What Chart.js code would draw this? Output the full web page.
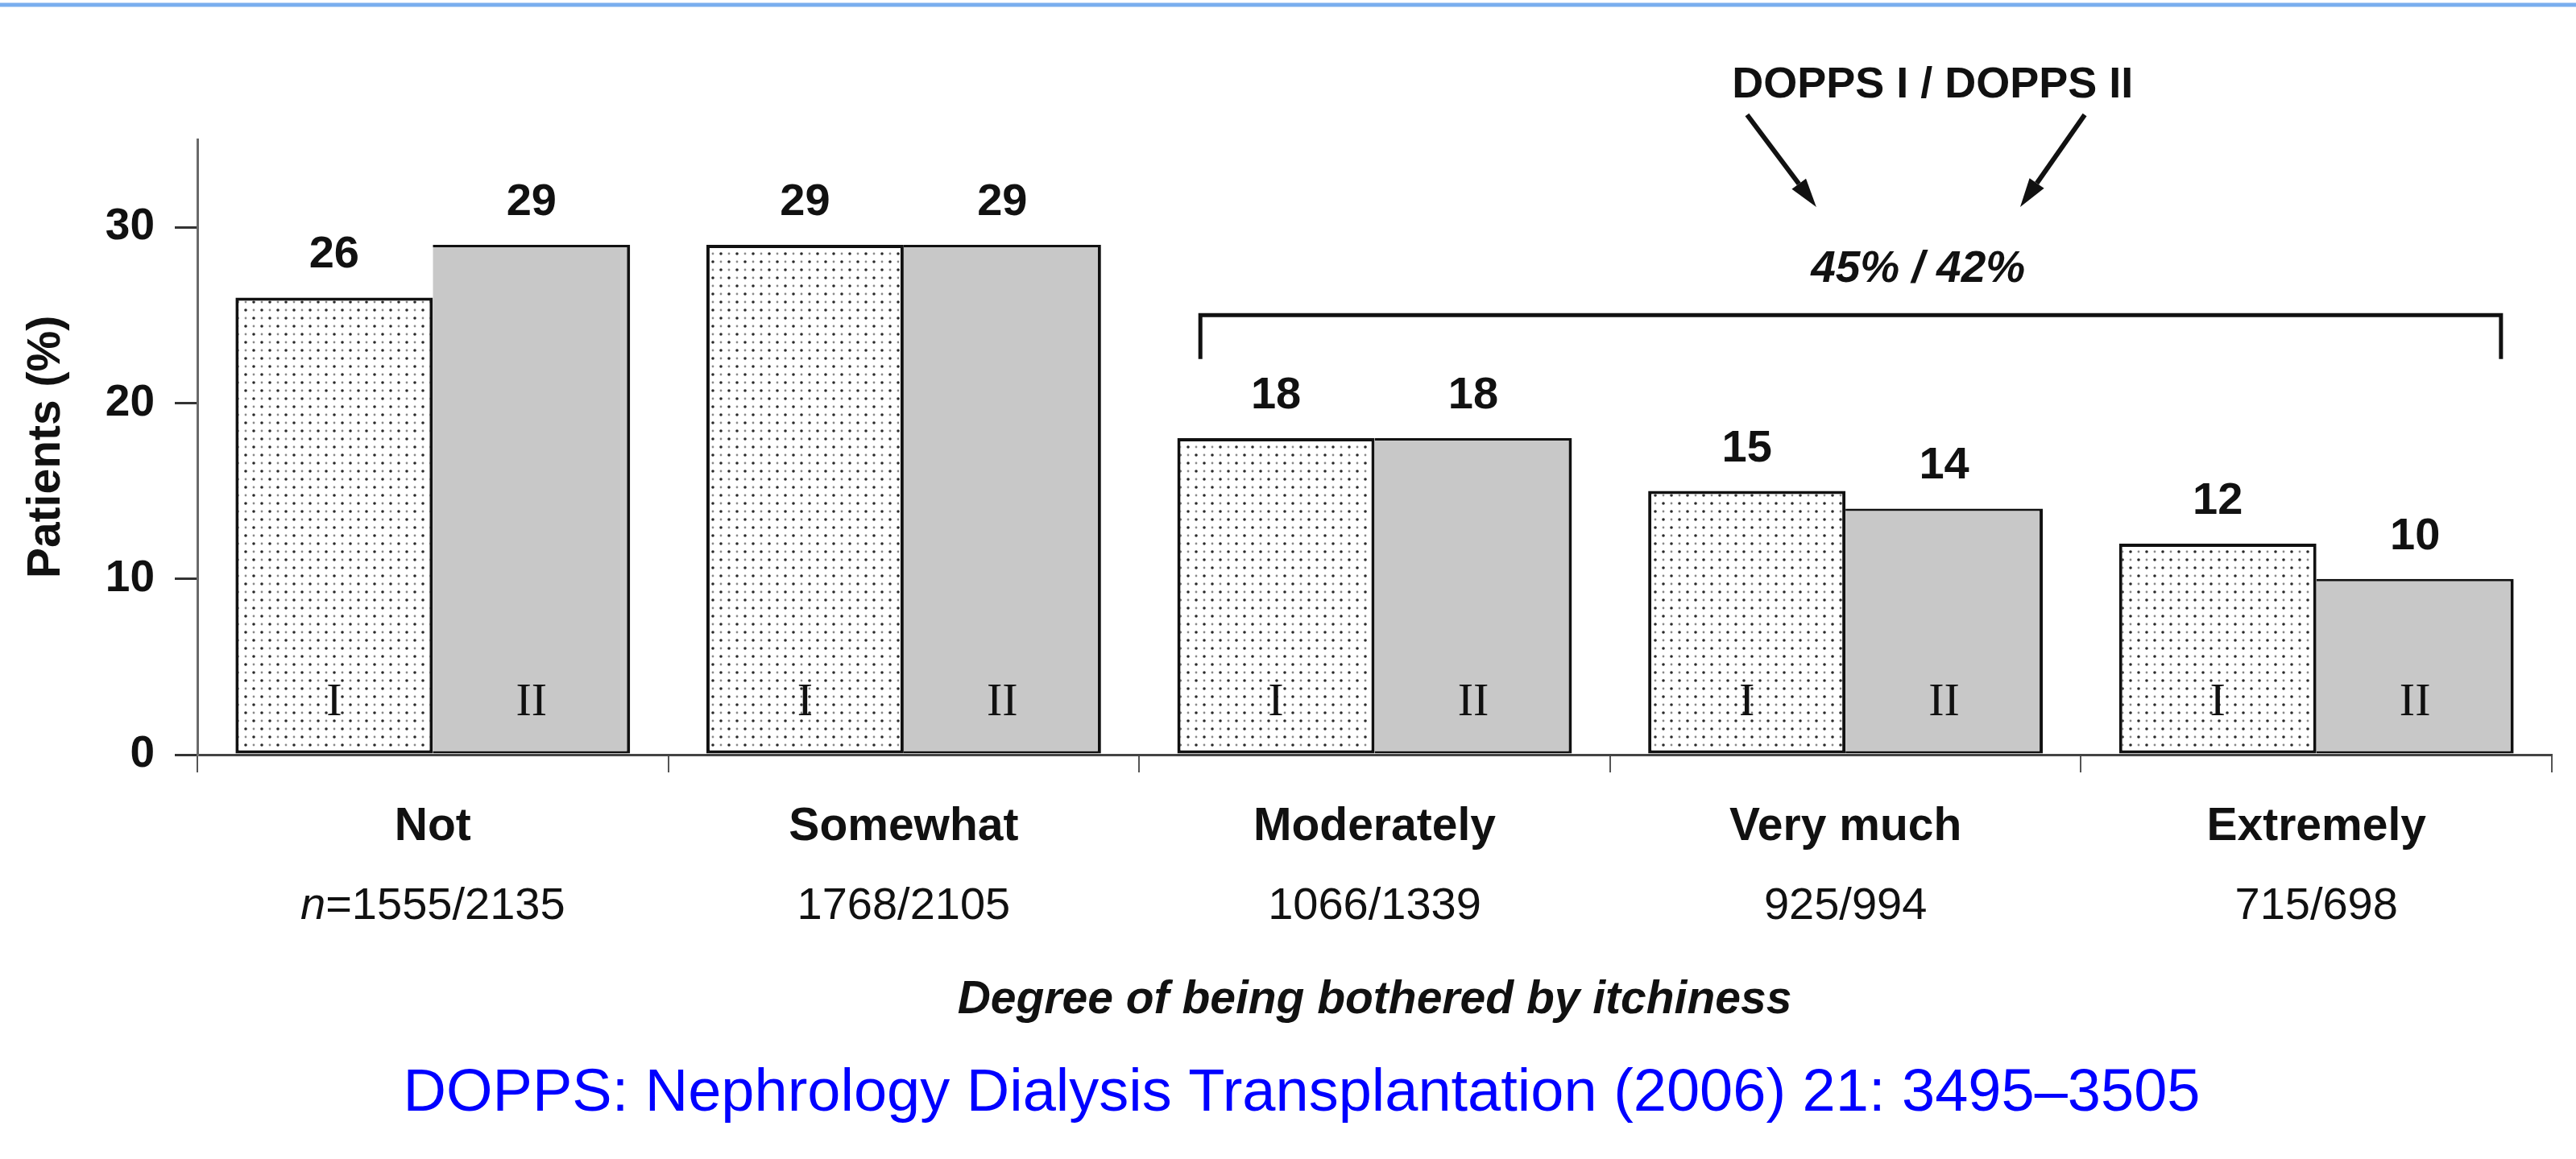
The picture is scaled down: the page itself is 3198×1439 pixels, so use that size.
<!DOCTYPE html>
<html>
<head>
<meta charset="utf-8">
<script src="https://cdn.jsdelivr.net/npm/chart.js@4.4.1/dist/chart.umd.min.js"></script>
<style>
  html, body { margin: 0; padding: 0; background: #fff; }
  #wrap { width: 3198px; height: 1439px; }
</style>
</head>
<body>
<div id="wrap"><canvas id="myChart" width="3198" height="1439"></canvas></div>
<script>
var categories = ["Not", "Somewhat", "Moderately", "Very much", "Extremely"];
var dopps1 = [26, 29, 18, 15, 12];
var dopps2 = [29, 29, 18, 14, 10];
var n1 = [1555, 1768, 1066, 925, 715];
var n2 = [2135, 2105, 1339, 994, 698];
var yTicks = [0, 10, 20, 30];
var seriesTags = ["I", "II"];
var totals = ["45%", "42%"];

var SANS = '"Liberation Sans", Arial, Helvetica, sans-serif';
var SERIF = '"Liberation Serif", "Times New Roman", serif';

// stipple fill for DOPPS I bars
function dotPattern() {
  var c = document.createElement('canvas');
  c.width = 20; c.height = 20;
  var g = c.getContext('2d');
  g.fillStyle = '#fff';
  g.fillRect(0, 0, 20, 20);
  function dot(x, y, r, col) {
    g.fillStyle = col;
    g.beginPath(); g.arc(x, y, r, 0, Math.PI * 2); g.fill();
  }
  dot(5, 5, 1.8, '#2a2a2a'); dot(15, 15, 1.8, '#2a2a2a');
  dot(15, 5, 1.4, '#8a8a8a'); dot(5, 15, 1.4, '#8a8a8a');
  return g.createPattern(c, 'repeat');
}

function arrow(ctx, x1, y1, x2, y2) {
  var a = Math.atan2(y2 - y1, x2 - x1);
  var len = 36, hw = 11;
  var bx = x2 - len * Math.cos(a), by = y2 - len * Math.sin(a);
  ctx.beginPath(); ctx.moveTo(x1, y1); ctx.lineTo(bx, by); ctx.stroke();
  ctx.beginPath();
  ctx.moveTo(x2, y2);
  ctx.lineTo(bx + hw * Math.sin(a), by - hw * Math.cos(a));
  ctx.lineTo(bx - hw * Math.sin(a), by + hw * Math.cos(a));
  ctx.closePath(); ctx.fill();
}

var extras = {
  id: 'extras',
  afterDraw: function(chart) {
    var ctx = chart.ctx, xs = chart.scales.x, ys = chart.scales.y;
    var catW = xs.width / categories.length;
    function X(u) { return xs.left + u * catW; }
    function Y(v) { return ys.getPixelForValue(v); }
    ctx.save();

    // blue rule along the top
    ctx.strokeStyle = '#7aaeee';
    ctx.lineWidth = 5;
    ctx.beginPath(); ctx.moveTo(0, 6); ctx.lineTo(chart.width, 6); ctx.stroke();

    // values above bars, I / II inside bars
    [dopps1, dopps2].forEach(function(arr, di) {
      var meta = chart.getDatasetMeta(di);
      meta.data.forEach(function(bar, j) {
        ctx.fillStyle = '#111';
        ctx.textAlign = 'center';
        ctx.font = 'bold 56px ' + SANS;
        ctx.textBaseline = 'alphabetic';
        ctx.fillText(String(arr[j]), bar.x, bar.y - 37);
        ctx.font = '58px ' + SERIF;
        ctx.textBaseline = 'middle';
        ctx.fillText(seriesTags[di], bar.x, bar.base - 63);
      });
    });

    // sample sizes under category names
    ctx.fillStyle = '#111';
    ctx.textBaseline = 'alphabetic';
    ctx.textAlign = 'left';
    categories.forEach(function(c, j) {
      var cx = X(j + 0.5), y = xs.top + 204;
      var rest = (j === 0 ? '=' : '') + n1[j] + '/' + n2[j];
      var wN = 0;
      if (j === 0) {
        ctx.font = 'italic 56px ' + SANS;
        wN = ctx.measureText('n').width;
      }
      ctx.font = '56px ' + SANS;
      var wRest = ctx.measureText(rest).width;
      var x0 = cx - (wN + wRest) / 2;
      if (j === 0) {
        ctx.font = 'italic 56px ' + SANS;
        ctx.fillText('n', x0, y);
        ctx.font = '56px ' + SANS;
      }
      ctx.fillText(rest, x0 + wN, y);
    });

    // DOPPS I / DOPPS II annotation
    ctx.textAlign = 'center';
    ctx.font = 'bold 54px ' + SANS;
    ctx.fillText('DOPPS I / DOPPS II', X(3.685), Y(37.4));
    ctx.strokeStyle = '#111';
    ctx.fillStyle = '#111';
    ctx.lineWidth = 6;
    arrow(ctx, X(3.291), Y(36.4), X(3.438), Y(31.15));
    arrow(ctx, X(4.008), Y(36.4), X(3.871), Y(31.15));
    ctx.font = 'italic bold 55px ' + SANS;
    ctx.fillText(totals[0] + ' / ' + totals[1], X(3.654), Y(26.9));

    // bracket over the three worst categories
    ctx.lineWidth = 5;
    ctx.beginPath();
    ctx.moveTo(X(2.13), Y(22.5));
    ctx.lineTo(X(2.13), Y(25));
    ctx.lineTo(X(4.892), Y(25));
    ctx.lineTo(X(4.892), Y(22.5));
    ctx.stroke();

    // citation
    ctx.fillStyle = '#0000ff';
    ctx.font = '74px ' + SANS;
    ctx.fillText('DOPPS: Nephrology Dialysis Transplantation (2006) 21: 3495\u20133505', 1616, 1379);
    ctx.restore();
  }
};

var ctx = document.getElementById('myChart');
var myChart = new Chart(ctx, {
  type: 'bar',
  data: {
    labels: categories,
    datasets: [{
      label: 'DOPPS I',
      data: dopps1,
      backgroundColor: dotPattern(),
      borderColor: '#111',
      borderWidth: 4,
      borderSkipped: false
    }, {
      label: 'DOPPS II',
      data: dopps2,
      backgroundColor: '#c8c8c8',
      borderColor: '#111',
      borderWidth: { top: 3, right: 4, bottom: 3, left: 0 },
      borderSkipped: false
    }]
  },
  options: {
    responsive: false,
    animation: false,
    layout: { padding: { left: 0, right: 30, top: 173, bottom: 0 } },
    datasets: { bar: { categoryPercentage: 0.838, barPercentage: 1.0 } },
    plugins: {
      legend: { display: false },
      tooltip: { enabled: false }
    },
    scales: {
      x: {
        grid: { drawOnChartArea: false, drawTicks: true, tickLength: 22, color: '#555', lineWidth: 2, offset: true },
        border: { display: true, color: '#444', width: 3 },
        ticks: {
          font: { family: SANS, size: 57, weight: 'bold' },
          color: '#111',
          padding: 34,
          maxRotation: 0,
          autoSkip: false
        },
        title: {
          display: true,
          text: 'Degree of being bothered by itchiness',
          font: { family: SANS, size: 57, weight: 'bold', style: 'italic' },
          color: '#111',
          padding: { top: 0, bottom: 163 }
        },
        afterFit: function(s) { s.height = 502; }
      },
      y: {
        min: 0,
        max: 35,
        grid: { drawOnChartArea: false, drawTicks: true, tickLength: 28, color: '#333', lineWidth: 3 },
        border: { display: true, color: '#6a6a6a', width: 3 },
        ticks: {
          stepSize: 10,
          includeBounds: false,
          font: { family: SANS, size: 55, weight: 'bold' },
          color: '#111',
          padding: 25
        },
        afterBuildTicks: function(s) {
          s.ticks = yTicks.map(function(v) { return { value: v }; });
        },
        title: {
          display: true,
          text: 'Patients (%)',
          font: { family: SANS, size: 57, weight: 'bold' },
          color: '#111',
          padding: { top: 24, bottom: 0 }
        },
        afterFit: function(s) { s.width = 245; }
      }
    }
  },
  plugins: [extras]
});
</script>
</body>
</html>
